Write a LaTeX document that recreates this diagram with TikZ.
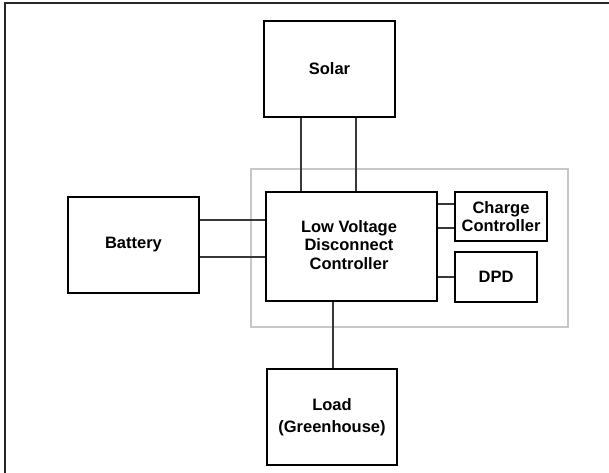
\documentclass[tikz,border=0pt]{standalone}
\usepackage{fontspec}
\setmainfont{Liberation Sans}
\begin{document}
\begin{tikzpicture}[x=1pt,y=-1pt,
  blk/.style={draw=black,line width=2pt,fill=white,inner sep=0pt,align=center,
    font=\fontsize{16.5}{19}\selectfont\bfseries},
  wire/.style={draw=black!78,line width=1.5pt},
  grp/.style={draw=black!22,line width=1.7pt},
  frm/.style={draw=black!85,line width=2pt}]
\useasboundingbox (0,0) rectangle (609,472);
\clip (0,0) rectangle (609,472);
\draw[frm] (5,3) rectangle (640,500);
\draw[grp] (251,169) rectangle (568,327);
\node[blk,minimum width=131pt,minimum height=96pt] (solar) at (329.5,69) {Solar};
\node[blk,minimum width=131pt,minimum height=96pt] (bat) at (133.5,245) {Battery};
\node[blk,minimum width=170.5pt,minimum height=109pt] (lvd) at (351.7,246.5) {};
\node[font=\fontsize{16.5}{18.8}\selectfont\bfseries,align=center] (lvdt) at (349,245) {Low Voltage\\Disconnect\\Controller};
\node[blk,minimum width=92pt,minimum height=49pt,font=\fontsize{16.5}{17.4}\selectfont\bfseries] (cc) at (501,216.5) {Charge\\Controller};
\node[blk,minimum width=82pt,minimum height=50pt] (dpd) at (496,277) {DPD};
\node[blk,minimum width=130pt,minimum height=96pt,font=\fontsize{16.5}{21.7}\selectfont\bfseries] (load) at (332,417) {Load\\(Greenhouse)};
\coordinate (xa) at (301,0);
\coordinate (xb) at (356,0);
\coordinate (xl) at (333,0);
\coordinate (ya) at (0,220);
\coordinate (yb) at (0,257);
\coordinate (yc) at (0,204);
\coordinate (yd) at (0,228);
\coordinate (ye) at (0,277);
\draw[wire] (solar.south -| xa) -- (lvd.north -| xa);
\draw[wire] (solar.south -| xb) -- (lvd.north -| xb);
\draw[wire] (bat.east |- ya) -- (lvd.west |- ya);
\draw[wire] (bat.east |- yb) -- (lvd.west |- yb);
\draw[wire] (lvd.east |- yc) -- (cc.west |- yc);
\draw[wire] (lvd.east |- yd) -- (cc.west |- yd);
\draw[wire] (lvd.east |- ye) -- (dpd.west |- ye);
\draw[wire] (lvd.south -| xl) -- (load.north -| xl);
\end{tikzpicture}
\end{document}
